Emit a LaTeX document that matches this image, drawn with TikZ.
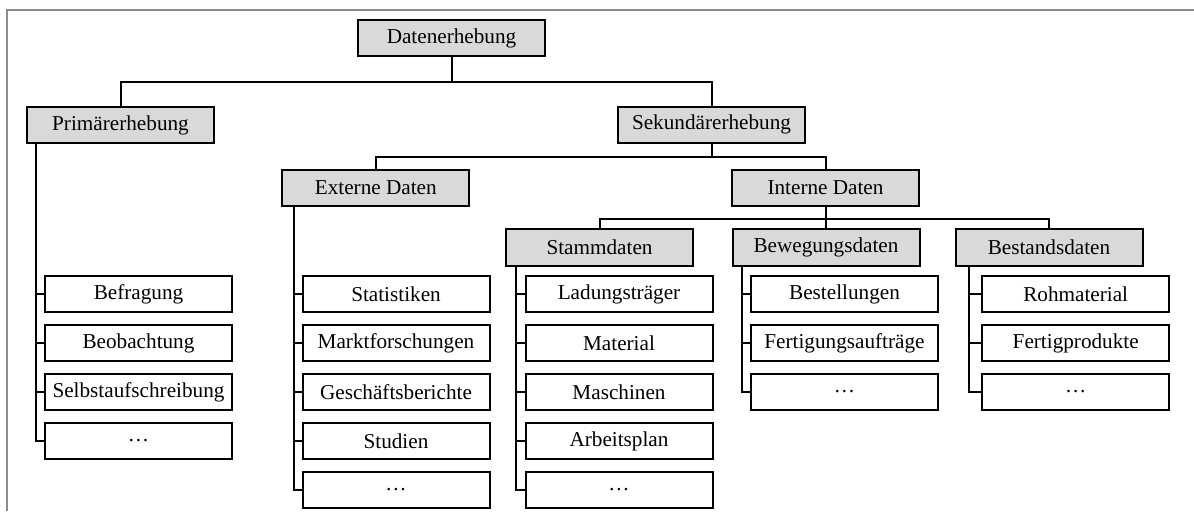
\documentclass[tikz,border=0pt]{standalone}
\usepackage{fontspec}
\setmainfont{Liberation Serif}
\usetikzlibrary{positioning}

\begin{document}
\begin{tikzpicture}[
			x=0.5pt, y=-0.5pt,
			node distance=5.3pt,
			font=\fontsize{10.6}{12}\selectfont,
			box/.style={draw, line width=1pt, minimum width=93.5pt, minimum height=18.2pt, inner sep=1pt},
			headbox/.style={box, fill=black!15},
			link/.style={line width=1pt},
			frame/.style={draw=black!45, line width=0.8pt},
		]
			\useasboundingbox (0,0) rectangle (1194,511);
			\draw[frame] (7,511) -- (7,10) -- (1194,10);

			\node[headbox] (erhebung) at (451.5,38) {Datenerhebung};
			\node[headbox] (primaer) at (120.5,125) {Primärerhebung};
			\node[headbox] (sekundaer) at (711.5,124.7) {Sekundärerhebung};
			\node[headbox] (extern) at (375.8,188) {Externe Daten};
			\node[headbox] (intern) at (825.5,188) {Interne Daten};
			\node[headbox] (stamm) at (599.5,247.5) {Stammdaten};
			\node[headbox] (bewegung) at (826,247.5) {Bewegungsdaten};
			\node[headbox] (bestand) at (1049,247.5) {Bestandsdaten};

			\node[box] (befragung) at (138.5,294) {Befragung};
			\node[box, below=of befragung] (beobachtung) {Beobachtung};
			\node[box, below=of beobachtung] (selbst) {Selbstaufschreibung};
			\node[box, below=of selbst] (primrest) {\dots};

			\node[box] (statistik) at (396,294) {Statistiken};
			\node[box, below=of statistik] (markt) {Marktforschungen};
			\node[box, below=of markt] (bericht) {Geschäftsberichte};
			\node[box, below=of bericht] (studie) {Studien};
			\node[box, below=of studie] (extrest) {\dots};

			\node[box] (ladung) at (619,294) {Ladungsträger};
			\node[box, below=of ladung] (material) {Material};
			\node[box, below=of material] (maschine) {Maschinen};
			\node[box, below=of maschine] (arbeitsplan) {Arbeitsplan};
			\node[box, below=of arbeitsplan] (stammrest) {\dots};

			\node[box] (bestellung) at (844.5,294) {Bestellungen};
			\node[box, below=of bestellung] (auftrag) {Fertigungsaufträge};
			\node[box, below=of auftrag] (bewegrest) {\dots};

			\node[box] (roh) at (1075.7,294) {Rohmaterial};
			\node[box, below=of roh] (fertig) {Fertigprodukte};
			\node[box, below=of fertig] (bestrest) {\dots};

			\draw[link] (erhebung.south) -- +(0,-12.35pt) -| (primaer.north);
			\draw[link] (erhebung.south) -- +(0,-12.35pt) -| (sekundaer.north);
			\draw[link] (sekundaer.south) -- +(0,-6.65pt) -| (extern.north);
			\draw[link] (sekundaer.south) -- +(0,-6.65pt) -| (intern.north);
			\draw[link] (intern.south) -- +(0,-5.75pt) -| (stamm.north);
			\draw[link] (intern.south) -- +(0,-5.75pt) -| (bewegung.north);
			\draw[link] (intern.south) -- +(0,-5.75pt) -| (bestand.north);

			\draw[link] ([xshift=5pt]primaer.south west) |- (befragung.west);
			\draw[link] ([xshift=5pt]primaer.south west) |- (beobachtung.west);
			\draw[link] ([xshift=5pt]primaer.south west) |- (selbst.west);
			\draw[link] ([xshift=5pt]primaer.south west) |- (primrest.west);

			\draw[link] ([xshift=6.2pt]extern.south west) |- (statistik.west);
			\draw[link] ([xshift=6.2pt]extern.south west) |- (markt.west);
			\draw[link] ([xshift=6.2pt]extern.south west) |- (bericht.west);
			\draw[link] ([xshift=6.2pt]extern.south west) |- (studie.west);
			\draw[link] ([xshift=6.2pt]extern.south west) |- (extrest.west);

			\draw[link] ([xshift=5.5pt]stamm.south west) |- (ladung.west);
			\draw[link] ([xshift=5.5pt]stamm.south west) |- (material.west);
			\draw[link] ([xshift=5.5pt]stamm.south west) |- (maschine.west);
			\draw[link] ([xshift=5.5pt]stamm.south west) |- (arbeitsplan.west);
			\draw[link] ([xshift=5.5pt]stamm.south west) |- (stammrest.west);

			\draw[link] ([xshift=5.2pt]bewegung.south west) |- (bestellung.west);
			\draw[link] ([xshift=5.2pt]bewegung.south west) |- (auftrag.west);
			\draw[link] ([xshift=5.2pt]bewegung.south west) |- (bewegrest.west);

			\draw[link] ([xshift=7.1pt]bestand.south west) |- (roh.west);
			\draw[link] ([xshift=7.1pt]bestand.south west) |- (fertig.west);
			\draw[link] ([xshift=7.1pt]bestand.south west) |- (bestrest.west);
		\end{tikzpicture}
\end{document}
